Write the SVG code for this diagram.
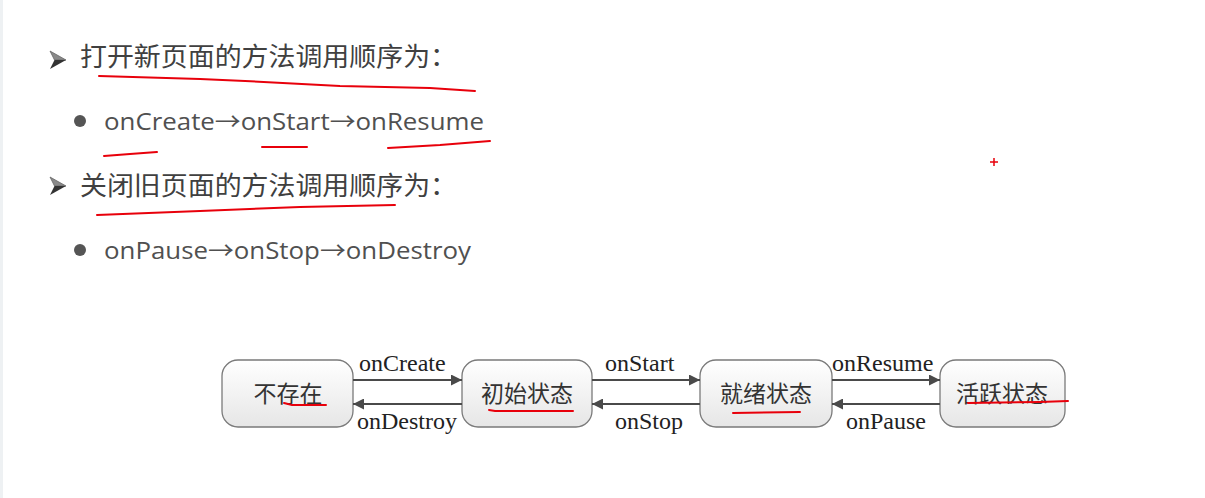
<svg xmlns="http://www.w3.org/2000/svg" width="1205" height="498" viewBox="0 0 1205 498">
<defs>
<linearGradient id="ng" x1="0" y1="0" x2="0" y2="1">
<stop offset="0" stop-color="#ffffff"/>
<stop offset="1" stop-color="#e6e6e6"/>
</linearGradient>
<marker id="ah" viewBox="0 0 10 10" refX="10" refY="5" markerWidth="11" markerHeight="11" markerUnits="userSpaceOnUse" orient="auto">
<path d="M0,0 L10,5 L0,10 z" fill="#4a4a4a"/>
</marker>
<g id="chev">
<path d="M0,0 L16,9 L4.5,9 z" fill="#8a8a8a" stroke="#666" stroke-width="0.8"/>
<path d="M4.5,9 L16,9 L0,18 z" fill="#333"/>
</g>
</defs>
<style>
.h{font-family:"Noto Sans CJK SC","Noto Sans",sans-serif;font-size:26px;fill:#404040}
.b{font-family:"Open Sans","Noto Sans",sans-serif;font-size:24px;fill:#505050}
.ar{font-family:"Noto Sans CJK SC",sans-serif}
.n{font-family:"Noto Sans CJK SC",sans-serif;font-size:23px;fill:#333;text-anchor:middle}
.l{font-family:"Liberation Serif",serif;font-size:24px;fill:#222}
.node{fill:url(#ng);stroke:#7a7a7a;stroke-width:1.3}
.c{stroke:#4a4a4a;stroke-width:2;fill:none;marker-end:url(#ah)}
.r{stroke:#e8000b;stroke-width:2;fill:none;stroke-linecap:round}
</style>
<rect width="1205" height="498" fill="#ffffff"/>
<rect x="0" y="0" width="3" height="498" fill="#eef1f3"/>

<g id="bullets">
<use href="#chev" x="50" y="51"/>
<text class="h" x="80" y="66" textLength="377" lengthAdjust="spacingAndGlyphs">打开新页面的方法调用顺序为：</text>
<circle cx="80" cy="121" r="6" fill="#555"/>
<text class="b" x="104" y="130" textLength="380" lengthAdjust="spacingAndGlyphs">onCreate<tspan class="ar">→</tspan>onStart<tspan class="ar">→</tspan>onResume</text>
<use href="#chev" x="50" y="177"/>
<text class="h" x="80" y="195" textLength="377" lengthAdjust="spacingAndGlyphs">关闭旧页面的方法调用顺序为：</text>
<circle cx="80" cy="250" r="6" fill="#555"/>
<text class="b" x="104" y="259" textLength="367" lengthAdjust="spacingAndGlyphs">onPause<tspan class="ar">→</tspan>onStop<tspan class="ar">→</tspan>onDestroy</text>
</g>

<g id="n1"><rect class="node" x="222" y="360" width="131" height="67" rx="16"/><text class="n" x="288" y="402">不存在</text></g>
<g id="n2"><rect class="node" x="462" y="360" width="130" height="67" rx="16"/><text class="n" x="527" y="402">初始状态</text></g>
<g id="n3"><rect class="node" x="700" y="360" width="132" height="67" rx="16"/><text class="n" x="766" y="402">就绪状态</text></g>
<g id="n4"><rect class="node" x="940" y="360" width="125" height="67" rx="16"/><text class="n" x="1002" y="402">活跃状态</text></g>

<g id="connectors">
<line class="c" x1="353" y1="380" x2="462" y2="380"/>
<line class="c" x1="462" y1="404" x2="353" y2="404"/>
<line class="c" x1="592" y1="380" x2="700" y2="380"/>
<line class="c" x1="700" y1="404" x2="592" y2="404"/>
<line class="c" x1="832" y1="380" x2="940" y2="380"/>
<line class="c" x1="940" y1="404" x2="832" y2="404"/>
<text class="l" x="359" y="371">onCreate</text>
<text class="l" x="357" y="429">onDestroy</text>
<text class="l" x="605" y="371">onStart</text>
<text class="l" x="615" y="429">onStop</text>
<text class="l" x="832" y="371">onResume</text>
<text class="l" x="846" y="429">onPause</text>
</g>

<g id="annotations">
<polyline class="r" points="99,76 200,79 245,81 340,86 430,88 475,91"/>
<polyline class="r" points="104,156 130,154 157,152"/>
<polyline class="r" points="262,147 307,147"/>
<polyline class="r" points="388,148 440,145 490,141"/>
<polyline class="r" points="97,215 200,211 300,207 395,205"/>
<polyline class="r" points="284,403 292,405 326,405"/>
<polyline class="r" points="489,410 495,411 573,411"/>
<polyline class="r" points="733,413 800,412"/>
<polyline class="r" points="968,403 1040,402 1068,401"/>
<path d="M990,162 h8 M994,158 v8" stroke="#e8000b" stroke-width="1.5"/>
</g>
</svg>
